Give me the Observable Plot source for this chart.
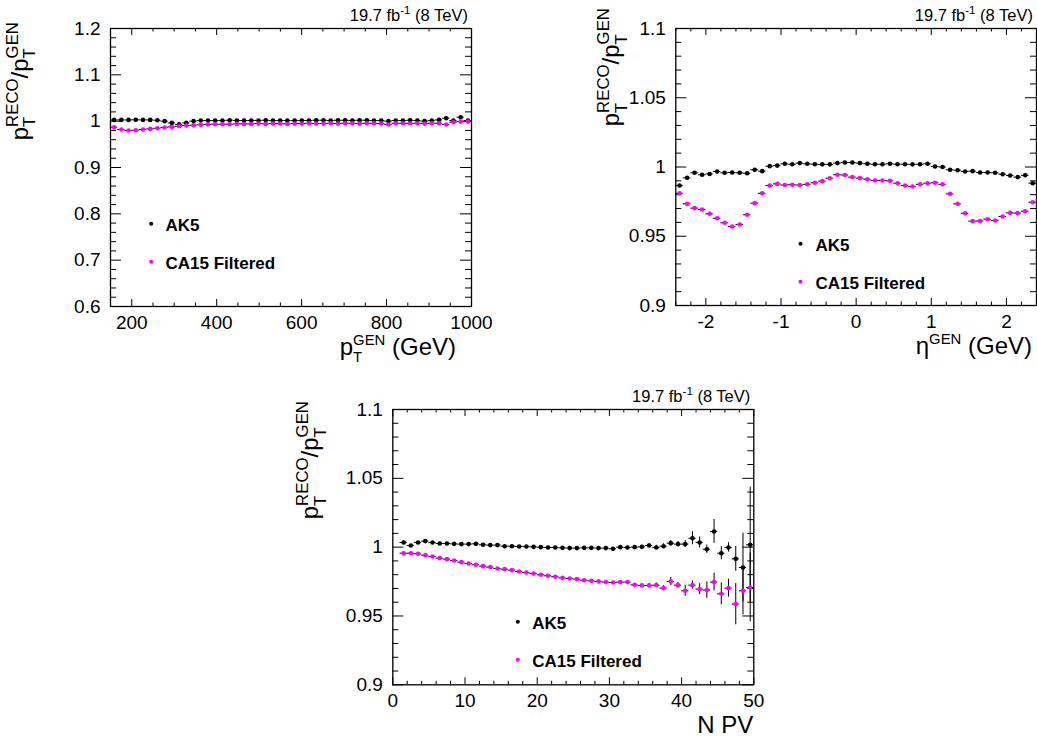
<!DOCTYPE html>
<html><head><meta charset="utf-8">
<script src="https://cdn.jsdelivr.net/npm/d3@7"></script>
<script src="https://cdn.jsdelivr.net/npm/@observablehq/plot@0.6"></script>
<style>
html,body{margin:0;padding:0;background:#fff}
#wrap{position:relative;width:1037px;height:742px;overflow:hidden;font-family:"Liberation Sans",Arial,Helvetica,sans-serif}
.panel{position:absolute}
</style></head><body>
<div id="wrap">
<div id="pA" class="panel" style="left:0;top:0"></div>
<div id="pB" class="panel" style="left:518px;top:0"></div>
<div id="pC" class="panel" style="left:230px;top:370px"></div>
</div>
<script>
// ---------------- DATA ----------------
const seriesNames = ["AK5", "CA15 Filtered"];
const lumiText = ["19.7 fb", "-1", " (8 TeV)"];

// Panel A: response vs pT(GEN)
const ptCenters = [158.5,175.5,192.5,209.5,226.5,243.5,260.5,277.5,294.5,311.5,
  328.5,345.5,362.5,379.5,396.5,413.5,430.5,447.5,464.5,481.5,
  498.5,515.5,532.5,549.5,566.5,583.5,600.5,617.5,634.5,651.5,
  668.5,685.5,702.5,719.5,736.5,753.5,770.5,787.5,804.5,821.5,
  838.5,855.5,872.5,889.5,906.5,923.5,940.5,957.5,974.5,991.5];
const ptHalfWidth = 8.5;
const ptAK5 = [1.0027,1.0027,1.0027,1.0030,1.0027,1.0027,1.0020,1.0000,0.9963,0.9930,
  0.9963,1.0000,1.0013,1.0013,1.0013,1.0013,1.0020,1.0013,1.0013,1.0013,
  1.0013,1.0020,1.0013,1.0013,1.0013,1.0013,1.0013,1.0013,1.0020,1.0020,
  1.0013,1.0020,1.0020,1.0013,1.0020,1.0020,1.0013,1.0013,1.0000,1.0013,
  1.0013,1.0020,1.0013,1.0000,1.0013,1.0027,1.0063,1.0013,1.0085,1.0013];
const ptAK5Err = [0.0005,0.0005,0.0005,0.0005,0.0005,0.0005,0.0005,0.0005,0.0005,0.0005,
  0.0005,0.0005,0.0005,0.0005,0.0005,0.0005,0.0005,0.0005,0.0005,0.0005,
  0.0005,0.0005,0.0005,0.0005,0.0005,0.0005,0.0005,0.0005,0.0005,0.0005,
  0.0005,0.0005,0.0005,0.0005,0.0005,0.0008,0.0008,0.0008,0.0008,0.0008,
  0.0008,0.0008,0.0008,0.0010,0.0010,0.0010,0.0020,0.0012,0.0030,0.0012];
const ptCA15 = [0.9869,0.9819,0.9797,0.9804,0.9819,0.9833,0.9847,0.9862,0.9876,0.9890,
  0.9905,0.9912,0.9920,0.9927,0.9934,0.9934,0.9934,0.9941,0.9941,0.9941,
  0.9948,0.9941,0.9948,0.9948,0.9941,0.9948,0.9948,0.9955,0.9948,0.9948,
  0.9955,0.9948,0.9955,0.9955,0.9948,0.9955,0.9955,0.9948,0.9927,0.9955,
  0.9955,0.9955,0.9955,0.9948,0.9955,0.9955,0.9927,0.9977,0.9991,0.9991];
const ptCA15Err = [0.0006,0.0006,0.0006,0.0006,0.0006,0.0006,0.0006,0.0006,0.0006,0.0006,
  0.0006,0.0006,0.0006,0.0006,0.0006,0.0006,0.0006,0.0006,0.0006,0.0006,
  0.0006,0.0006,0.0006,0.0006,0.0006,0.0006,0.0006,0.0006,0.0006,0.0006,
  0.0006,0.0006,0.0006,0.0006,0.0006,0.0006,0.0006,0.0006,0.0006,0.0006,
  0.0006,0.0006,0.0006,0.0006,0.0006,0.0006,0.0006,0.0008,0.0008,0.0008];
const ptMajor = [200,400,600,800,1000];

// Panel B: response vs eta(GEN)
const etaCenters = [-2.35,-2.25,-2.15,-2.05,-1.95,-1.85,-1.75,-1.65,-1.55,-1.45,
  -1.35,-1.25,-1.15,-1.05,-0.95,-0.85,-0.75,-0.65,-0.55,-0.45,
  -0.35,-0.25,-0.15,-0.05,0.05,0.15,0.25,0.35,0.45,0.55,
  0.65,0.75,0.85,0.95,1.05,1.15,1.25,1.35,1.45,1.55,
  1.65,1.75,1.85,1.95,2.05,2.15,2.25,2.35];
const etaHalfWidth = 0.05;
const etaAK5 = [0.9866,0.9922,0.9958,0.9944,0.9950,0.9968,0.9958,0.9960,0.9958,0.9955,
  0.9980,0.9970,1.0006,1.0010,1.0023,1.0020,1.0028,1.0023,1.0020,1.0019,
  1.0019,1.0028,1.0032,1.0032,1.0028,1.0023,1.0020,1.0020,1.0023,1.0020,
  1.0020,1.0019,1.0020,1.0023,1.0004,1.0000,0.9980,0.9977,0.9968,0.9970,
  0.9960,0.9960,0.9958,0.9948,0.9939,0.9927,0.9940,0.9883];
const etaCA15 = [0.9810,0.9734,0.9703,0.9693,0.9662,0.9630,0.9597,0.9570,0.9585,0.9655,
  0.9739,0.9810,0.9866,0.9878,0.9870,0.9872,0.9870,0.9875,0.9886,0.9898,
  0.9919,0.9944,0.9942,0.9927,0.9920,0.9912,0.9903,0.9903,0.9900,0.9883,
  0.9866,0.9859,0.9875,0.9883,0.9886,0.9875,0.9806,0.9734,0.9666,0.9609,
  0.9610,0.9623,0.9614,0.9643,0.9669,0.9667,0.9681,0.9746];
const etaErr = [0.0005,0.0005,0.0005,0.0005,0.0005,0.0005,0.0005,0.0005,0.0005,0.0005,
  0.0005,0.0005,0.0005,0.0005,0.0005,0.0005,0.0005,0.0005,0.0005,0.0005,
  0.0005,0.0005,0.0005,0.0005,0.0005,0.0005,0.0005,0.0005,0.0005,0.0005,
  0.0005,0.0005,0.0005,0.0005,0.0005,0.0005,0.0005,0.0005,0.0005,0.0005,
  0.0005,0.0005,0.0005,0.0005,0.0005,0.0005,0.0005,0.0005];
const etaMajor = [-2,-1,0,1,2];

// Panel C: response vs number of primary vertices
const npvCenters = [1.5,2.5,3.5,4.5,5.5,6.5,7.5,8.5,9.5,10.5,
  11.5,12.5,13.5,14.5,15.5,16.5,17.5,18.5,19.5,20.5,
  21.5,22.5,23.5,24.5,25.5,26.5,27.5,28.5,29.5,30.5,
  31.5,32.5,33.5,34.5,35.5,36.5,37.5,38.5,39.5,40.5,
  41.5,42.5,43.5,44.5,45.5,46.5,47.5,48.5,49.5];
const npvHalfWidth = 0.5;
const npvAK5 = [1.0034,1.0012,1.0034,1.0044,1.0034,1.0027,1.0027,1.0024,1.0022,1.0022,
  1.0024,1.0017,1.0015,1.0015,1.0007,1.0007,1.0005,1.0005,1.0002,1.0000,
  0.9998,0.9998,0.9995,0.9993,0.9993,0.9995,0.9995,0.9993,0.9993,0.9988,
  1.0000,0.9998,1.0000,1.0002,1.0012,0.9998,1.0007,1.0029,1.0022,1.0022,
  1.0065,1.0034,0.9985,1.0114,0.9956,0.9998,0.9915,0.9852,1.0017];
const npvAK5Err = [0.0010,0.0007,0.0005,0.0004,0.0004,0.0004,0.0004,0.0004,0.0004,0.0004,
  0.0004,0.0004,0.0004,0.0004,0.0004,0.0004,0.0004,0.0004,0.0004,0.0004,
  0.0004,0.0004,0.0004,0.0004,0.0004,0.0005,0.0005,0.0005,0.0006,0.0007,
  0.0008,0.0009,0.0010,0.0012,0.0014,0.0016,0.0018,0.0020,0.0020,0.0025,
  0.0048,0.0040,0.0030,0.0087,0.0048,0.0034,0.0090,0.0250,0.0420];
const npvCA15 = [0.9956,0.9956,0.9952,0.9942,0.9932,0.9920,0.9913,0.9903,0.9891,0.9881,
  0.9872,0.9862,0.9855,0.9845,0.9840,0.9833,0.9823,0.9816,0.9809,0.9799,
  0.9792,0.9785,0.9777,0.9772,0.9768,0.9760,0.9755,0.9751,0.9746,0.9743,
  0.9746,0.9746,0.9726,0.9722,0.9722,0.9724,0.9702,0.9751,0.9724,0.9683,
  0.9724,0.9695,0.9688,0.9746,0.9661,0.9702,0.9586,0.9683,0.9707];
const npvCA15Err = [0.0010,0.0007,0.0005,0.0004,0.0004,0.0004,0.0004,0.0004,0.0004,0.0004,
  0.0004,0.0004,0.0004,0.0004,0.0004,0.0004,0.0004,0.0004,0.0004,0.0004,
  0.0004,0.0004,0.0004,0.0004,0.0004,0.0005,0.0005,0.0005,0.0006,0.0007,
  0.0008,0.0009,0.0010,0.0012,0.0014,0.0016,0.0018,0.0030,0.0020,0.0040,
  0.0030,0.0040,0.0060,0.0065,0.0080,0.0065,0.0150,0.0175,0.0250];
const npvMajor = [0,10,20,30,40,50];

// ---------------- HELPERS ----------------
const FONT = '"Liberation Sans", Arial, Helvetica, sans-serif';
const MAGENTA = "#ff00ff";
const fmt = d => String(+d.toFixed(3));

// text with sub/superscripts, drawn as a Plot function mark
function latex(parts, place, size, opts = {}) {
  const ratio = opts.ratio || 0.7;
  return (index, scales, values, dims) => {
    const f = {l: dims.marginLeft, r: dims.width - dims.marginRight, t: dims.marginTop, b: dims.height - dims.marginBottom};
    const [x, y] = place(f);
    const txt = d3.create("svg:text")
      .attr("transform", `translate(${x},${y}) rotate(${opts.rotate || 0})`)
      .attr("text-anchor", opts.anchor || "start")
      .attr("font-family", FONT)
      .attr("font-size", size)
      .attr("fill", "black");
    let cur = 0;
    for (const p of parts) {
      const m = p.m || "n";
      const s = m === "n" ? size : ratio * size;
      const target = m === "sub" ? 0.3 * size : m === "sup" ? -0.42 * size : 0;
      const ts = txt.append("tspan").attr("font-size", s).text(p.t);
      if (target - cur) ts.attr("dy", target - cur);
      if (p.back) ts.attr("dx", -p.back * ratio * size);
      cur = target;
    }
    return txt.node();
  };
}
const W_T = 0.611; // advance of "T" in em
const yTitleParts = [{t:"p"},{t:"T",m:"sub"},{t:"RECO",m:"sup",back:W_T},{t:"/"},{t:"p"},{t:"T",m:"sub"},{t:"GEN",m:"sup",back:W_T}];

function panel(cfg) {
  const {w, h, ml, mr, mt, mb} = cfg;
  const iw = w - ml - mr, ih = h - mt - mb;
  const [x0, x1] = cfg.xDomain, [y0, y1] = cfg.yDomain;
  const steps = (a, b, s) => d3.range(Math.ceil(a / s - 1e-9), Math.floor(b / s + 1e-9) + 1).map(i => +(i * s).toFixed(6));
  const isMajor = (v, arr) => arr.some(a => Math.abs(a - v) < 1e-6);
  const xMin = steps(x0, x1, cfg.xMinorStep).filter(v => !isMajor(v, cfg.xMajor));
  const yMin = steps(y0, y1, cfg.yMinorStep).filter(v => !isMajor(v, cfg.yMajor));
  const XL = 7, XS = 3.5, YL = 11, YS = 6;
  const tick = {stroke: "black", strokeWidth: 1};

  const rows = [];
  cfg.series.forEach(s => s.y.forEach((v, i) => rows.push({
    name: s.name, color: s.color, x: cfg.x[i], v,
    lo: v - s.err[i], hi: v + s.err[i], xl: cfg.x[i] - cfg.hw, xr: cfg.x[i] + cfg.hw
  })));

  const marks = [
    Plot.tickX(cfg.xMajor, {x: d => d, insetTop: ih - XL, ...tick}),
    Plot.tickX(xMin, {x: d => d, insetTop: ih - XS, ...tick}),
    Plot.tickX(cfg.xMajor, {x: d => d, insetBottom: ih - XL, ...tick}),
    Plot.tickX(xMin, {x: d => d, insetBottom: ih - XS, ...tick}),
    Plot.tickY(cfg.yMajor, {y: d => d, insetRight: iw - YL, ...tick}),
    Plot.tickY(yMin, {y: d => d, insetRight: iw - YS, ...tick}),
    Plot.tickY(cfg.yMajor, {y: d => d, insetLeft: iw - YL, ...tick}),
    Plot.tickY(yMin, {y: d => d, insetLeft: iw - YS, ...tick}),
    Plot.ruleY(rows, {y: "v", x1: "xl", x2: "xr", stroke: "black", strokeWidth: 1}),
    Plot.ruleX(rows, {x: "x", y1: "lo", y2: "hi", stroke: "black", strokeWidth: 1}),
    Plot.dot(rows, {x: "x", y: "v", r: 2.3, fill: "color", stroke: null}),
    Plot.frame({stroke: "black", strokeWidth: 1.3})
  ];
  cfg.series.forEach((s, i) => {
    marks.push(Plot.dot([s], {frameAnchor: "top-left", dx: cfg.leg[0], dy: cfg.leg[1] + i * 38, r: 2, fill: s.color}));
    marks.push(Plot.text([s], {frameAnchor: "top-left", text: "name", dx: cfg.leg[2], dy: cfg.leg[1] + i * 38 + 7,
      textAnchor: "start", lineAnchor: "bottom", fontWeight: "bold", fontSize: 17, fill: "black"}));
  });
  marks.push(latex([{t: lumiText[0]}, {t: lumiText[1], m: "sup"}, {t: lumiText[2]}], f => [f.r - 3, f.t - 7], 16.5, {anchor: "end"}));
  marks.push(latex(cfg.xTitle, f => [f.r - cfg.xTitleInset, f.b + 49], 24, {anchor: "end", ratio: 0.62}));
  marks.push(latex(yTitleParts, f => [f.l - cfg.yTitleOff, f.t - cfg.yTitleTop], 24, {anchor: "end", rotate: -90}));

  return Plot.plot({
    width: w, height: h, marginLeft: ml, marginRight: mr, marginTop: mt, marginBottom: mb,
    style: {background: "transparent", fontFamily: FONT, fontSize: "19px", color: "black", overflow: "visible"},
    x: {domain: cfg.xDomain, ticks: cfg.xMajor, tickSize: 0, tickPadding: 9, tickFormat: fmt, label: null},
    y: {domain: cfg.yDomain, ticks: cfg.yMajor, tickSize: 0, tickPadding: 10, tickFormat: fmt, label: null},
    marks
  });
}

const ser = (a, ae, b, be) => [
  {name: seriesNames[0], color: "black", y: a, err: ae},
  {name: seriesNames[1], color: MAGENTA, y: b, err: be}
];

const A = panel({
  w: 518, h: 372, ml: 110, mr: 47, mt: 28, mb: 66,
  xDomain: [150, 1000], yDomain: [0.6, 1.2], xMajor: ptMajor, yMajor: [0.6,0.7,0.8,0.9,1.0,1.1,1.2],
  xMinorStep: 50, yMinorStep: 0.02, x: ptCenters, hw: ptHalfWidth,
  series: ser(ptAK5, ptAK5Err, ptCA15, ptCA15Err),
  leg: [40.7, 195.3, 55],
  xTitle: [{t:"p"},{t:"T",m:"sub"},{t:"GEN",m:"sup",back:W_T},{t:" (GeV)"}], xTitleInset: 15,
  yTitleOff: 82, yTitleTop: 6
});
const B = panel({
  w: 519, h: 372, ml: 157.3, mr: 1, mt: 28, mb: 67,
  xDomain: [-2.4, 2.4], yDomain: [0.9, 1.1], xMajor: etaMajor, yMajor: [0.9,0.95,1.0,1.05,1.1],
  xMinorStep: 0.2, yMinorStep: 0.01, x: etaCenters, hw: etaHalfWidth,
  series: ser(etaAK5, etaErr, etaCA15, etaErr),
  leg: [124.7, 215.3, 139.7],
  xTitle: [{t:"η"},{t:"GEN",m:"sup"},{t:" (GeV)"}], xTitleInset: 4,
  yTitleOff: 56, yTitleTop: 20
});
const C = panel({
  w: 540, h: 372, ml: 162.3, mr: 16.7, mt: 39, mb: 57.7,
  xDomain: [0, 50], yDomain: [0.9, 1.1], xMajor: npvMajor, yMajor: [0.9,0.95,1.0,1.05,1.1],
  xMinorStep: 2, yMinorStep: 0.01, x: npvCenters, hw: npvHalfWidth,
  series: ser(npvAK5, npvAK5Err, npvCA15, npvCA15Err),
  leg: [125, 212.3, 139.4],
  xTitle: [{t:"N PV"}], xTitleInset: 0,
  yTitleOff: 74, yTitleTop: 8
});
document.getElementById("pA").appendChild(A);
document.getElementById("pB").appendChild(B);
document.getElementById("pC").appendChild(C);
</script>
</body></html>
